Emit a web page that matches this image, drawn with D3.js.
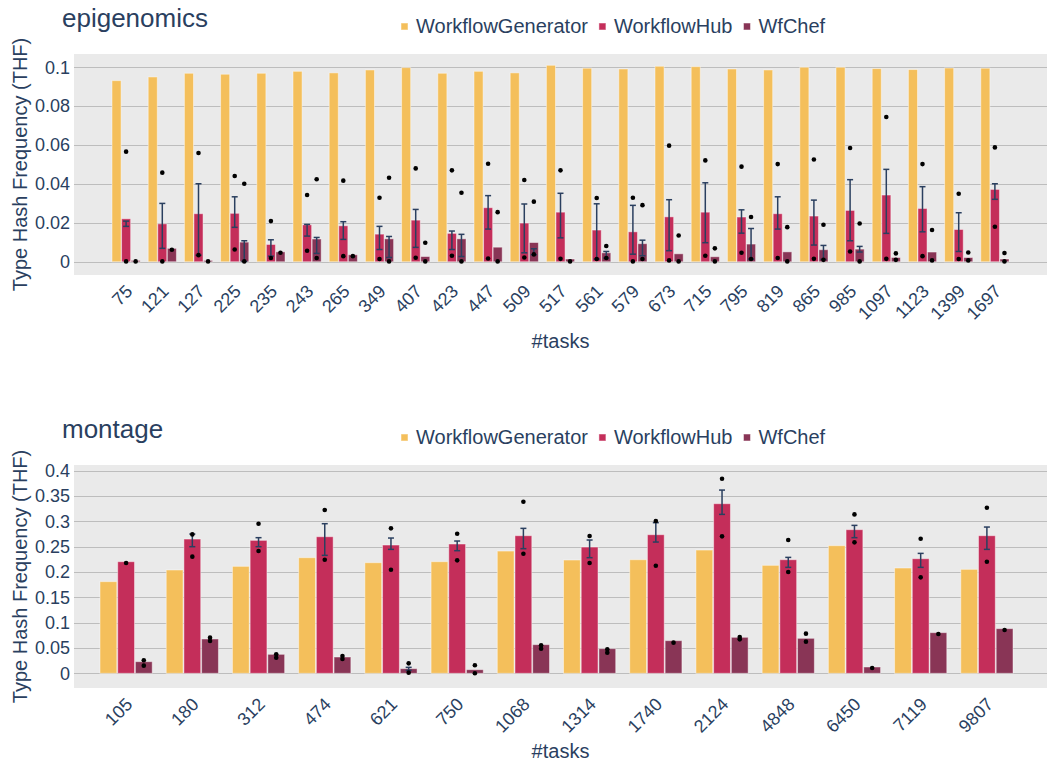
<!DOCTYPE html>
<html lang="en">
<head>
<meta charset="UTF-8" />
<title>THF</title>
<script src="https://d3js.org/d3.v7.min.js"></script>
<style>
  body { margin: 0; background: #fff; }
  text { font-family: "Liberation Sans", Arial, sans-serif; fill: #2a3f5f; }
</style>
</head>
<body>
<svg id="chart" width="1047" height="766"></svg>
<script>
// ---------- data: epigenomics ----------
const epiTasks = [75,121,127,225,235,243,265,349,407,423,447,509,517,561,579,673,715,795,819,865,985,1097,1123,1399,1697];
const epiGen = [0.0931,0.0950,0.0969,0.0964,0.0969,0.0979,0.0971,0.0986,0.0998,0.0969,0.0979,0.0971,0.1010,0.0995,0.0991,0.1005,0.1003,0.0991,0.0986,0.1000,0.1000,0.0993,0.0988,0.0996,0.0995];
const epiHub = [0.0221,0.0195,0.0247,0.0249,0.0089,0.0190,0.0185,0.0142,0.0214,0.0146,0.0278,0.0199,0.0255,0.0163,0.0154,0.0231,0.0255,0.0230,0.0247,0.0235,0.0264,0.0343,0.0274,0.0166,0.0372];
const epiHubErr = [[0.0182,0.0209],[0.0069,0.0300],[0.0034,0.0401],[0.0177,0.0334],[0.0029,0.0113],[0.0132,0.0192],[0.0115,0.0206],[0.0063,0.0182],[0.0074,0.0269],[0.0063,0.0158],[0.0168,0.0340],[0.0046,0.0297],[0.0123,0.0352],[0.0014,0.0298],[0.0039,0.0290],[0.0057,0.0319],[0.0098,0.0406],[0.0147,0.0267],[0.0168,0.0334],[0.0086,0.0317],[0.0108,0.0422],[0.0146,0.0475],[0.0154,0.0386],[0.0053,0.0252],[0.0321,0.0401]];
const epiHubDots = [[0.0566,0.0002],[0.0458,0.0002],[0.0559,0.0034],[0.0441,0.0063],[0.0209,0.0019],[0.0343,0.0057],[0.0417,0.0029],[0.0329,0.0014],[0.0480,0.0021],[0.0470,0.0031],[0.0504,0.0017],[0.0420,0.0022],[0.0470,0.0015],[0.0328,0.0014],[0.0329,0.0002],[0.0597,0.0007],[0.0521,0.0031],[0.0489,0.0046],[0.0502,0.0019],[0.0526,0.0015],[0.0585,0.0053],[0.0744,0.0015],[0.0502,0.0029],[0.0350,0.0014],[0.0588,0.0180]];
const epiChef = [0.0007,0.0069,0.0007,0.0101,0.0051,0.0117,0.0036,0.0118,0.0027,0.0118,0.0075,0.0099,0.0014,0.0046,0.0093,0.0041,0.0026,0.0091,0.0051,0.0062,0.0065,0.0022,0.0050,0.0022,0.0014];
const epiChefErr = [null,null,null,[0.0002,0.0108],null,[0.0043,0.0125],null,[0.0022,0.0130],null,[0.0027,0.0141],null,[0.0036,0.0067],null,[0.0019,0.0053],[0.0031,0.0111],null,null,[0.0014,0.0171],null,[0.0012,0.0084],[0.0050,0.0079],null,null,null,null];
const epiChefDots = [[0.0002],[0.0062],[0.0002],[0.0401,0.0002],[0.0046],[0.0424,0.0019],[0.0029],[0.0432,0.0002],[0.0098,0.0002],[0.0355,0.0002],[0.0255,0.0002],[0.0309,0.0038],[0.0002],[0.0081,0.0019],[0.0291,0.0014],[0.0135,0.0002],[0.0069,0.0002],[0.0230,0.0014],[0.0178,0.0002],[0.0190,0.0010],[0.0197,0.0002],[0.0043,0.0010],[0.0163,0.0007],[0.0048,0.0007],[0.0045,0.0002]];
const epiTicks = [0, 0.02, 0.04, 0.06, 0.08, 0.1];

// ---------- data: montage ----------
const monTasks = [105,180,312,474,621,750,1068,1314,1740,2124,4848,6450,7119,9807];
const monGen = [0.181,0.204,0.2112,0.2283,0.2184,0.2204,0.2414,0.2237,0.2243,0.2434,0.2132,0.252,0.2079,0.2053];
const monHub = [0.2204,0.2651,0.2625,0.2697,0.2533,0.2553,0.2717,0.2493,0.2737,0.3349,0.2243,0.2836,0.2263,0.2717];
const monHubErr = [null,[0.25,0.275],[0.25,0.2678],[0.2329,0.2954],[0.2447,0.2671],[0.2421,0.2612],[0.2461,0.2862],[0.2283,0.2632],[0.2592,0.2974],[0.3138,0.3618],[0.2092,0.2289],[0.2678,0.2921],[0.2092,0.2368],[0.2447,0.2888]];
const monHubDots = [[0.2178],[0.2743,0.2303],[0.2954,0.2414],[0.3224,0.2243],[0.2862,0.2046],[0.2757,0.223],[0.3388,0.2362],[0.2711,0.2178],[0.3007,0.2125],[0.3842,0.2704],[0.2632,0.2],[0.3138,0.2586],[0.2658,0.1895],[0.327,0.2204]];
const monChef = [0.023,0.0678,0.0375,0.0322,0.0092,0.0072,0.0566,0.0487,0.0645,0.0711,0.0691,0.0125,0.0803,0.0882];
const monChefErr = [null,null,null,null,[0.0059,0.0118],null,null,null,null,null,null,null,null,null];
const monChefDots = [[0.0257,0.0151],[0.0704,0.0638],[0.0375,0.0309],[0.0342,0.0283],[0.0197,0.0013],[0.0158,0.0],[0.0553,0.0487],[0.0474,0.0408],[0.0605],[0.0717,0.0671],[0.0783,0.0625],[0.0105],[0.0776],[0.0855]];
const monTicks = [0, 0.05, 0.1, 0.15, 0.2, 0.25, 0.3, 0.35, 0.4];

const seriesNames = ["WorkflowGenerator", "WorkflowHub", "WfChef"];
const colors = { WorkflowGenerator: "#f4bf5b", WorkflowHub: "#c42e5a", WfChef: "#893556" };

const svg = d3.select("#chart");

function drawPanel(p) {
  const g = svg.append("g");
  const x = d3.scaleBand().domain(p.tasks).range(p.bandRange);
  const inner = d3.scaleBand().domain(seriesNames)
    .range([p.groupPad, x.step() - p.groupPad]).paddingInner(0.05);
  const y = d3.scaleLinear().domain(p.yDomain).range([p.bottom, p.top]);

  // background + grid
  g.append("rect").attr("x", p.left).attr("y", p.top)
    .attr("width", p.right - p.left).attr("height", p.bottom - p.top)
    .attr("fill", "#eaeaea");
  g.selectAll(".grid").data(p.ticks).enter().append("line")
    .attr("x1", p.left).attr("x2", p.right)
    .attr("y1", d => Math.round(y(d)) + 0.5).attr("y2", d => Math.round(y(d)) + 0.5)
    .attr("stroke", "#bdbdbd").attr("stroke-width", 1);

  // y tick labels
  g.selectAll(".ytick").data(p.ticks).enter().append("text")
    .attr("x", p.left - 4).attr("y", d => y(d)).attr("dy", "0.35em")
    .attr("text-anchor", "end").style("font-size", "18px")
    .text(d => d3.format("~g")(d));

  // bars
  const series = [
    { name: "WorkflowGenerator", vals: p.gen },
    { name: "WorkflowHub", vals: p.hub, err: p.hubErr, dots: p.hubDots },
    { name: "WfChef", vals: p.chef, err: p.chefErr, dots: p.chefDots }
  ];
  series.forEach(s => {
    const cx = i => x(p.tasks[i]) + inner(s.name) + inner.bandwidth() / 2;
    g.selectAll(null).data(s.vals).enter().append("rect")
      .attr("x", (d, i) => x(p.tasks[i]) + inner(s.name))
      .attr("width", inner.bandwidth())
      .attr("y", d => y(d)).attr("height", d => y(0) - y(d))
      .attr("fill", colors[s.name])
      .attr("stroke", "rgba(255,255,255,0.45)").attr("stroke-width", 1);
    if (s.err) {
      s.err.forEach((e, i) => {
        if (!e) return;
        const ex = cx(i);
        const eg = g.append("g").attr("stroke", "#2a3f5f").attr("stroke-width", 1.5);
        eg.append("line").attr("x1", ex).attr("x2", ex).attr("y1", y(e[0])).attr("y2", y(e[1]));
        eg.append("line").attr("x1", ex - 3).attr("x2", ex + 3).attr("y1", y(e[0])).attr("y2", y(e[0]));
        eg.append("line").attr("x1", ex - 3).attr("x2", ex + 3).attr("y1", y(e[1])).attr("y2", y(e[1]));
      });
    }
    if (s.dots) {
      s.dots.forEach((ds, i) => {
        g.selectAll(null).data(ds).enter().append("circle")
          .attr("cx", cx(i)).attr("cy", d => y(d)).attr("r", 2.3).attr("fill", "#000");
      });
    }
  });

  // x tick labels
  g.selectAll(".xtick").data(p.tasks).enter().append("text")
    .attr("transform", d => `translate(${x(d) + x.bandwidth() / 2 + 3},${p.bottom + 13}) rotate(-45)`)
    .attr("dy", "0.35em").attr("text-anchor", "end").style("font-size", "18px")
    .text(d => d);

  // axis titles
  g.append("text").attr("x", (p.left + p.right) / 2).attr("y", p.xTitleY)
    .attr("text-anchor", "middle").attr("dy", "0.35em").style("font-size", "20px").text("#tasks");
  g.append("text")
    .attr("transform", `translate(20,${(p.top + p.bottom) / 2}) rotate(-90)`)
    .attr("text-anchor", "middle").attr("dy", "0.35em").style("font-size", "20px")
    .text("Type Hash Frequency (THF)");

  // title
  g.append("text").attr("x", 62).attr("y", p.titleY).style("font-size", "26px").text(p.title);

  // legend
  let lx = 401;
  seriesNames.forEach(n => {
    g.append("rect").attr("x", lx).attr("y", p.legendY - 3).attr("width", 7).attr("height", 7)
      .attr("fill", colors[n]).attr("stroke", "rgba(255,255,255,0.5)");
    const t = g.append("text").attr("x", lx + 15).attr("y", p.legendY).attr("dy", "0.35em")
      .style("font-size", "20px").text(n);
    lx += 15 + t.node().getComputedTextLength() + 11;
  });
}

drawPanel({
  title: "epigenomics", titleY: 27, legendY: 26,
  tasks: epiTasks, gen: epiGen, hub: epiHub, hubErr: epiHubErr, hubDots: epiHubDots,
  chef: epiChef, chefErr: epiChefErr, chefDots: epiChefDots, ticks: epiTicks,
  left: 74, right: 1047, top: 54, bottom: 275,
  yDomain: [-0.0068, 0.1068], bandRange: [108, 1013], groupPad: 4, xTitleY: 341
});

drawPanel({
  title: "montage", titleY: 438, legendY: 437,
  tasks: monTasks, gen: monGen, hub: monHub, hubErr: monHubErr, hubDots: monHubDots,
  chef: monChef, chefErr: monChefErr, chefDots: monChefDots, ticks: monTicks,
  left: 74, right: 1047, top: 465, bottom: 688,
  yDomain: [-0.029, 0.4113], bandRange: [93, 1020], groupPad: 7, xTitleY: 751
});
</script>
</body>
</html>
